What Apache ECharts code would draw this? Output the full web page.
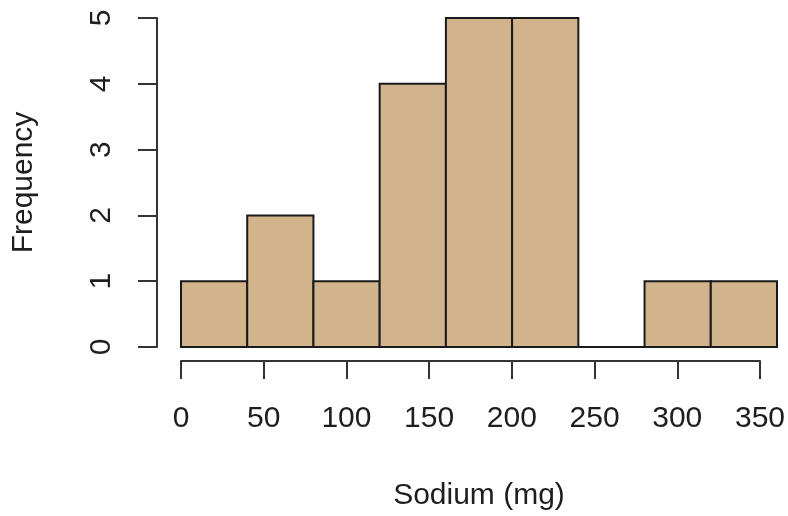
<!DOCTYPE html>
<html>
<head>
<meta charset="utf-8">
<script src="https://cdn.jsdelivr.net/npm/echarts@6/dist/echarts.min.js"></script>
<style>html,body{margin:0;padding:0;background:#fff;}#chart{width:788px;height:516px;}</style>
</head>
<body>
<div id="chart"></div>
<script>
// Histogram data
var binStarts = [0, 40, 80, 120, 160, 200, 240, 280, 320];
var binEnds   = [40, 80, 120, 160, 200, 240, 280, 320, 360];
var counts    = [1, 2, 1, 4, 5, 5, 0, 1, 1];
var xTickLabels = ['0', '50', '100', '150', '200', '250', '300', '350'];
var yTickLabels = ['0', '1', '2', '3', '4', '5'];
var xTitle = 'Sodium (mg)';
var yTitle = 'Frequency';

var FONT = '"Liberation Sans", Arial, sans-serif';
var FS = 30;
var TXT = '#1e1e1e';
var AX = '#333333';

var data = binStarts.map(function (s, i) { return [s, binEnds[i], counts[i]]; });

var chart = echarts.init(document.getElementById('chart'), null, {renderer: 'canvas'});
chart.setOption({
  animation: false,
  backgroundColor: '#fff',
  grid: [
    {left: 181, right: 11, top: 18, bottom: 169},
    {left: 181, right: 788 - 761.5, top: 18, bottom: 169}
  ],
  xAxis: [
    {
      type: 'value', gridIndex: 0, min: 0, max: 360,
      axisLine: {show: false, onZero: false}, axisTick: {show: false}, axisLabel: {show: false},
      splitLine: {show: false},
      name: xTitle, nameLocation: 'middle', nameGap: 134,
      nameTextStyle: {fontFamily: FONT, fontSize: FS, color: TXT}
    },
    {
      type: 'value', gridIndex: 1, min: 0, max: 350, interval: 50, offset: 14,
      axisLine: {show: true, onZero: false, lineStyle: {color: AX, width: 2}},
      axisTick: {show: true, length: 18, lineStyle: {color: AX, width: 2}},
      axisLabel: {show: true, margin: 43, fontFamily: FONT, fontSize: FS, color: TXT,
        formatter: function (v) { var i = Math.round(v / 50); return xTickLabels[i] !== undefined ? xTickLabels[i] : ''; }},
      splitLine: {show: false}
    }
  ],
  yAxis: [
    {
      type: 'value', gridIndex: 0, min: 0, max: 5, interval: 1, offset: 24,
      axisLine: {show: true, onZero: false, lineStyle: {color: AX, width: 2}},
      axisTick: {show: true, length: 19, lineStyle: {color: AX, width: 2}},
      axisLabel: {show: true, margin: 40, rotate: 90, fontFamily: FONT, fontSize: FS, color: TXT,
        formatter: function (v) { return yTickLabels[Math.round(v)] !== undefined ? yTickLabels[Math.round(v)] : ''; }},
      splitLine: {show: false},
      name: yTitle, nameLocation: 'middle', nameGap: 118, nameRotate: 90,
      nameTextStyle: {fontFamily: FONT, fontSize: FS, color: TXT}
    },
    {
      type: 'value', gridIndex: 1, min: 0, max: 5, show: false
    }
  ],
  series: [{
    type: 'custom',
    xAxisIndex: 0, yAxisIndex: 0,
    data: data,
    clip: false,
    renderItem: function (params, api) {
      var p0 = api.coord([api.value(0), api.value(2)]);
      var p1 = api.coord([api.value(1), 0]);
      return {
        type: 'rect',
        shape: {x: p0[0], y: p0[1], width: p1[0] - p0[0], height: p1[1] - p0[1]},
        style: {fill: '#D2B48C', stroke: '#1a1a1a', lineWidth: 2}
      };
    }
  }]
});
</script>
</body>
</html>
